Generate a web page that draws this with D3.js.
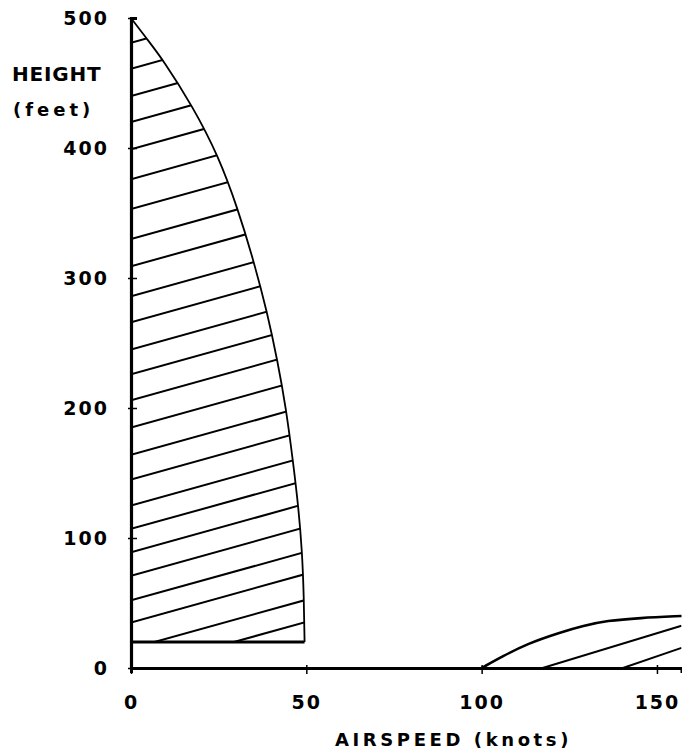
<!DOCTYPE html>
<html>
<head>
<meta charset="utf-8">
<script src="https://cdn.jsdelivr.net/npm/d3@7"></script>
<style>
  body { margin: 0; background: #fff; }
  text { font-family: "DejaVu Sans", sans-serif; font-weight: bold; fill: #000; }
</style>
</head>
<body>
<div class="canvas"></div>
<script>
// boundary of the upper "avoid" area: [airspeed knots, height ft]
const upperCurve = [
  [0, 500], [4.5, 484], [9.1, 468], [17.6, 432], [24.9, 394], [30.5, 353], [35, 313],
  [38.8, 274], [41.8, 236], [44.2, 200], [46.2, 159], [47.7, 125], [48.8, 90],
  [49.3, 55], [49.5, 20]
];
const upperFloor = 20; // bottom edge of the upper area (ft)

// hatch lines of the upper area: height where each one meets the axis, and their slope
const upperHatch = [481, 461, 440, 420, 399, 376, 353, 330, 309, 286, 266, 245, 226,
                    206, 185, 164, 145, 125, 107, 89, 71, 52, 35, 15, -2];
const hatchSlope = 0.75; // ft per knot

// boundary of the lower (high speed) area
const lowerCurve = [[100, 0], [106, 9], [112.8, 18.5], [122.4, 27.4],
                    [129, 32.5], [135.7, 36.4], [145, 38.5], [157, 40]];
// hatch segments in the lower area: [x1, h1, x2, h2]
const lowerHatch = [[117.4, 0, 157, 32.5], [140.3, 0, 157, 15.5]];

const xTicks = [0, 50, 100, 150];
const yTicks = [0, 100, 200, 300, 400, 500];

const width = 682, height = 752;

const svg = d3.select('.canvas')
              .append('svg')
              .attr('width', width)
              .attr('height', height);

// scales (axes sit at 131px / 668px)
const x = d3.scaleLinear().domain([0, 157]).range([131, 681.5]);
const y = d3.scaleLinear().domain([0, 500]).range([668, 18]);

// basis curve smooths out the wobble of the hand-read points
const line = d3.line()
               .x(d => x(d[0]))
               .y(d => y(d[1]))
               .curve(d3.curveBasis);

// clip shapes for the hatching
const defs = svg.append('defs');
const upperShape = line(upperCurve) + `L${x(0)},${y(upperFloor)}Z`;
defs.append('clipPath').attr('id', 'clipUpper')
    .append('path').attr('d', upperShape);

const lowerShape = line(lowerCurve) + `L${x(157)},${y(0)}L${x(100)},${y(0)}Z`;
defs.append('clipPath').attr('id', 'clipLower')
    .append('path').attr('d', lowerShape);

// upper hatching
svg.append('g')
   .attr('clip-path', 'url(#clipUpper)')
   .selectAll('line')
   .data(upperHatch)
   .enter().append('line')
     .attr('x1', x(0))
     .attr('y1', d => y(d))
     .attr('x2', x(60))
     .attr('y2', d => y(d + hatchSlope * 60))
     .attr('stroke', '#000')
     .attr('stroke-width', 2);

// lower hatching
svg.append('g')
   .attr('clip-path', 'url(#clipLower)')
   .selectAll('line')
   .data(lowerHatch)
   .enter().append('line')
     .attr('x1', d => x(d[0]))
     .attr('y1', d => y(d[1]))
     .attr('x2', d => x(d[2]))
     .attr('y2', d => y(d[3]))
     .attr('stroke', '#000')
     .attr('stroke-width', 2);

// outlines
svg.append('path')
   .attr('d', line(upperCurve))
   .attr('fill', 'none')
   .attr('stroke', '#000')
   .attr('stroke-width', 1.8);

svg.append('line') // floor of the upper area
   .attr('x1', x(0)).attr('x2', x(49.5))
   .attr('y1', y(upperFloor)).attr('y2', y(upperFloor))
   .attr('stroke', '#000')
   .attr('stroke-width', 3);

svg.append('path')
   .attr('d', line(lowerCurve))
   .attr('fill', 'none')
   .attr('stroke', '#000')
   .attr('stroke-width', 2.6);

// axes
const xAxis = d3.axisBottom(x)
                .tickValues(xTicks)
                .tickSizeOuter(0)
                .tickSize(5)
                .tickPadding(23);
const yAxis = d3.axisLeft(y)
                .tickValues(yTicks)
                .tickSizeOuter(0)
                .tickSize(-6)
                .tickPadding(22);

const xAxisGroup = svg.append('g').attr('transform', `translate(0, ${y(0)})`).call(xAxis);
const yAxisGroup = svg.append('g').attr('transform', `translate(${x(0)}, 0)`).call(yAxis);

xAxisGroup.select('.domain').attr('stroke-width', 3);
yAxisGroup.select('.domain').attr('stroke-width', 3.2);
xAxisGroup.selectAll('.tick line').attr('y1', -3).attr('y2', 6).attr('stroke-width', 1.5);
yAxisGroup.selectAll('.tick line').attr('x1', -3).attr('stroke-width', 1.5);

svg.selectAll('.tick text')
   .style('font-family', '"DejaVu Sans", sans-serif')
   .style('font-weight', 'bold')
   .style('font-size', '19px')
   .style('letter-spacing', '2px');

// axis titles
svg.append('text')
   .attr('x', 12).attr('y', 81)
   .style('font-size', '20px')
   .style('letter-spacing', '0.8px')
   .text('HEIGHT');

svg.append('text')
   .attr('x', 13).attr('y', 116)
   .style('font-size', '18px')
   .style('letter-spacing', '4px')
   .text('(feet)');

svg.append('text')
   .attr('x', 335).attr('y', 746)
   .style('font-size', '18px')
   .style('letter-spacing', '3.6px')
   .text('AIRSPEED (knots)');
</script>
</body>
</html>
